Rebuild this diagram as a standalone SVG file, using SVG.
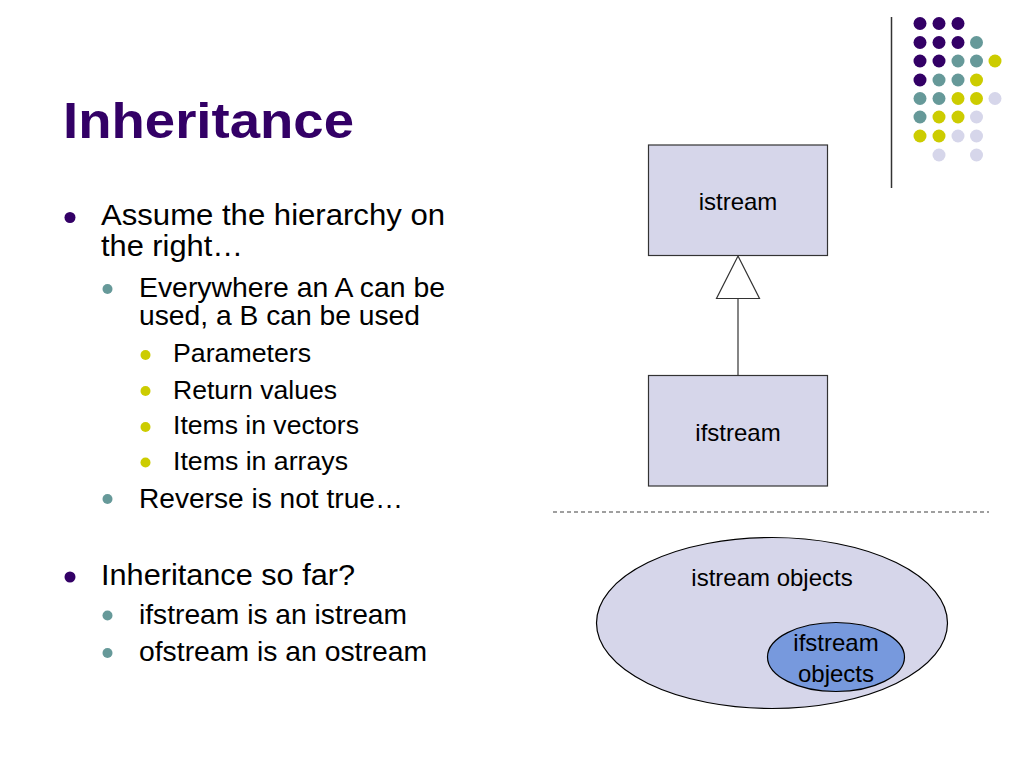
<svg xmlns="http://www.w3.org/2000/svg" width="1024" height="768" viewBox="0 0 1024 768">
<style>
text{font-family:"Liberation Sans",Arial,sans-serif;fill:#000}
.title{font-size:50px;font-weight:bold;fill:#330066}
.l1{font-size:30px}
.l2{font-size:27.5px}
.l3{font-size:25px}
.lbl{font-size:24px;text-anchor:middle}
.p{fill:#330066}.t{fill:#669999}.y{fill:#CCCC00}.v{fill:#D6D6EA}
.box{fill:#D6D6EA;stroke:#333;stroke-width:1.2}
</style>
<rect width="1024" height="768" fill="#fff"/>
<g id="decor">
<line x1="891.5" y1="17" x2="891.5" y2="188" stroke="#333" stroke-width="1.5"/>
<g>
<circle class="p" cx="920" cy="23.5" r="6.5"/><circle class="p" cx="939" cy="23.5" r="6.5"/><circle class="p" cx="958" cy="23.5" r="6.5"/>
<circle class="p" cx="920" cy="42.5" r="6.5"/><circle class="p" cx="939" cy="42.5" r="6.5"/><circle class="p" cx="958" cy="42.5" r="6.5"/><circle class="t" cx="976.5" cy="42.5" r="6.5"/>
<circle class="p" cx="920" cy="61" r="6.5"/><circle class="p" cx="939" cy="61" r="6.5"/><circle class="t" cx="958" cy="61" r="6.5"/><circle class="t" cx="976.5" cy="61" r="6.5"/><circle class="y" cx="995" cy="61" r="6.5"/>
<circle class="p" cx="920" cy="80" r="6.5"/><circle class="t" cx="939" cy="80" r="6.5"/><circle class="t" cx="958" cy="80" r="6.5"/><circle class="y" cx="976.5" cy="80" r="6.5"/>
<circle class="t" cx="920" cy="98.5" r="6.5"/><circle class="t" cx="939" cy="98.5" r="6.5"/><circle class="y" cx="958" cy="98.5" r="6.5"/><circle class="y" cx="976.5" cy="98.5" r="6.5"/><circle class="v" cx="995" cy="98.5" r="6.5"/>
<circle class="t" cx="920" cy="117" r="6.5"/><circle class="y" cx="939" cy="117" r="6.5"/><circle class="y" cx="958" cy="117" r="6.5"/><circle class="v" cx="976.5" cy="117" r="6.5"/>
<circle class="y" cx="920" cy="136" r="6.5"/><circle class="y" cx="939" cy="136" r="6.5"/><circle class="v" cx="958" cy="136" r="6.5"/><circle class="v" cx="976.5" cy="136" r="6.5"/>
<circle class="v" cx="939" cy="155" r="6.5"/><circle class="v" cx="976.5" cy="155" r="6.5"/>
</g>
</g>
<text class="title" x="63" y="137.5" textLength="291" lengthAdjust="spacingAndGlyphs">Inheritance</text>
<g id="bullets">
<circle class="p" cx="70" cy="217.5" r="5.5"/>
<text class="l1" x="101" y="225" textLength="344" lengthAdjust="spacingAndGlyphs">Assume the hierarchy on</text>
<text class="l1" x="101" y="256" textLength="142" lengthAdjust="spacingAndGlyphs">the right…</text>
<circle class="t" cx="107.5" cy="289" r="5"/>
<text class="l2" x="139" y="297" textLength="306" lengthAdjust="spacingAndGlyphs">Everywhere an A can be</text>
<text class="l2" x="139" y="325" textLength="281" lengthAdjust="spacingAndGlyphs">used, a B can be used</text>
<circle class="y" cx="145.5" cy="355" r="5"/>
<text class="l3" x="173" y="362" textLength="138" lengthAdjust="spacingAndGlyphs">Parameters</text>
<circle class="y" cx="145.5" cy="391" r="5"/>
<text class="l3" x="173" y="398.5" textLength="164" lengthAdjust="spacingAndGlyphs">Return values</text>
<circle class="y" cx="145.5" cy="427" r="5"/>
<text class="l3" x="173" y="434" textLength="186" lengthAdjust="spacingAndGlyphs">Items in vectors</text>
<circle class="y" cx="145.5" cy="462.5" r="5"/>
<text class="l3" x="173" y="470" textLength="175" lengthAdjust="spacingAndGlyphs">Items in arrays</text>
<circle class="t" cx="107.5" cy="499" r="5"/>
<text class="l2" x="139" y="507.5" textLength="264" lengthAdjust="spacingAndGlyphs">Reverse is not true…</text>
<circle class="p" cx="70" cy="577" r="5.5"/>
<text class="l1" x="101" y="585" textLength="254" lengthAdjust="spacingAndGlyphs">Inheritance so far?</text>
<circle class="t" cx="107.5" cy="615.5" r="5"/>
<text class="l2" x="139" y="623.5" textLength="268" lengthAdjust="spacingAndGlyphs">ifstream is an istream</text>
<circle class="t" cx="107.5" cy="653" r="5"/>
<text class="l2" x="139" y="661" textLength="288" lengthAdjust="spacingAndGlyphs">ofstream is an ostream</text>
</g>
<g id="connectors">
<line x1="738" y1="298" x2="738" y2="375.5" stroke="#333" stroke-width="1.2"/>
<polygon points="738,256 759.5,298.5 716.5,298.5" fill="#fff" stroke="#333" stroke-width="1.2"/>
</g>
<g id="node-istream">
<rect class="box" x="648.5" y="145" width="179" height="110.5"/>
<text class="lbl" x="738" y="210">istream</text>
</g>
<g id="node-ifstream">
<rect class="box" x="648.5" y="375.5" width="179" height="110.5"/>
<text class="lbl" x="738" y="441">ifstream</text>
</g>
<line id="separator" x1="553" y1="512" x2="989" y2="512" stroke="#808080" stroke-width="1.3" stroke-dasharray="4 3"/>
<g id="node-istream-objects">
<ellipse cx="772" cy="623" rx="175.5" ry="85.5" fill="#D6D6EA" stroke="#000" stroke-width="1.2"/>
<text class="lbl" x="772" y="586">istream objects</text>
</g>
<g id="node-ifstream-objects">
<ellipse cx="836" cy="657" rx="68.5" ry="34.5" fill="#7799DD" stroke="#000" stroke-width="1.2"/>
<text class="lbl" x="836" y="651">ifstream</text>
<text class="lbl" x="836" y="682">objects</text>
</g>
</svg>
